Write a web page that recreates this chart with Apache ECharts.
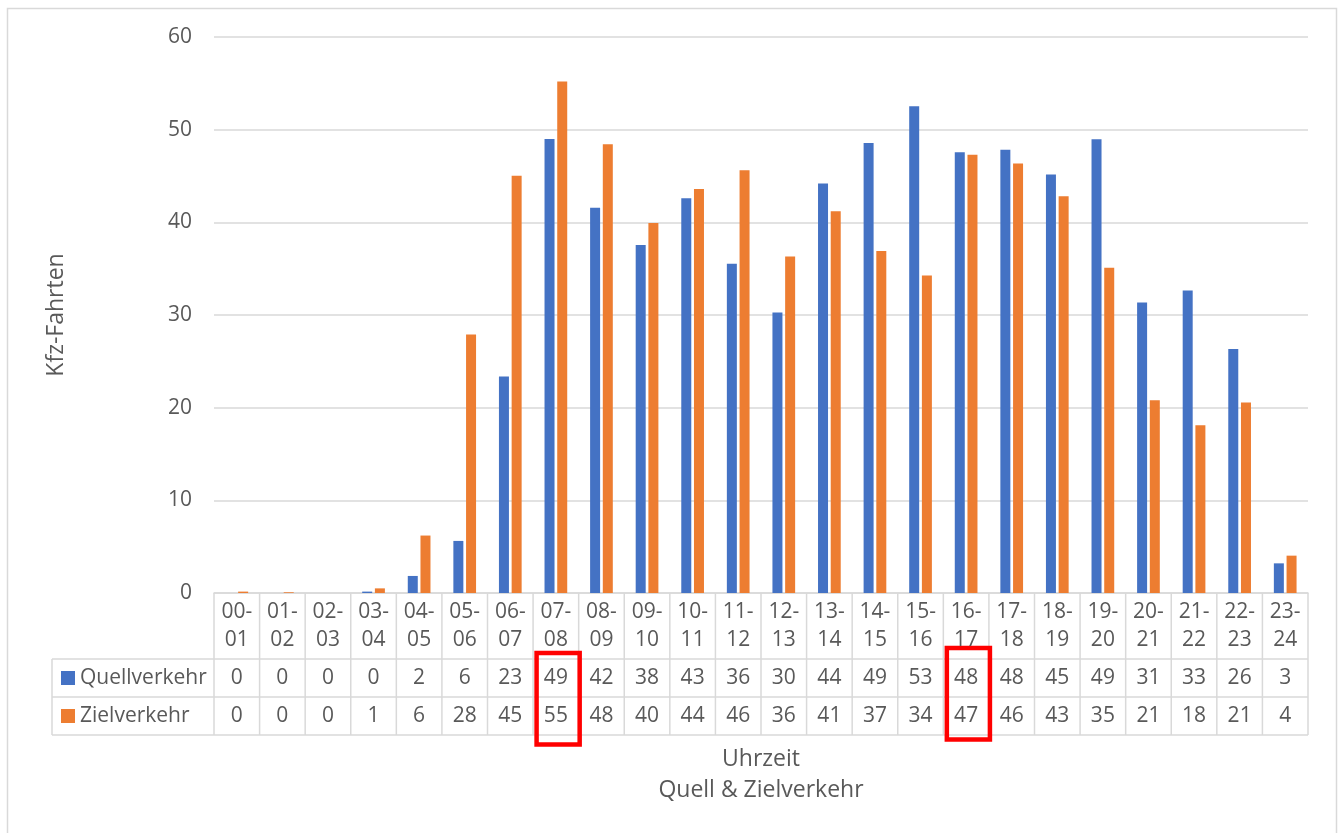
<!DOCTYPE html>
<html>
<head>
<meta charset="utf-8">
<script src="https://cdn.jsdelivr.net/npm/echarts@6/dist/echarts.min.js"></script>
<style>
  html, body { margin: 0; padding: 0; background: #ffffff; }
  #chart { width: 1342px; height: 833px; }
</style>
</head>
<body>
<div id="chart"></div>
<script>
// Hourly vehicle trips (Kfz-Fahrten), outbound vs. inbound traffic
const categories = ['00-01', '01-02', '02-03', '03-04', '04-05', '05-06', '06-07', '07-08',
  '08-09', '09-10', '10-11', '11-12', '12-13', '13-14', '14-15', '15-16', '16-17', '17-18',
  '18-19', '19-20', '20-21', '21-22', '22-23', '23-24'];
const quellverkehr = [0, 0, 0, 0.15, 1.84, 5.62, 23.35, 49.0, 41.58, 37.55, 42.6, 35.53,
  30.27, 44.2, 48.55, 52.54, 47.55, 47.82, 45.15, 48.97, 31.35, 32.65, 26.34, 3.2];
const zielverkehr = [0.15, 0.08, 0, 0.5, 6.2, 27.9, 45.04, 55.2, 48.43, 39.92, 43.6, 45.62,
  36.32, 41.19, 36.9, 34.27, 47.28, 46.34, 42.81, 35.09, 20.79, 18.09, 20.57, 4.03];
const seriesNames = ['Quellverkehr', 'Zielverkehr'];
const yTicks = [0, 10, 20, 30, 40, 50, 60];
const highlighted = ['07-08', '16-17'];

const TEXT = '#595959';
const LINE = '#d9d9d9';
const FONT = '"Open Sans", "DejaVu Sans", sans-serif';
const LABEL_SIZE = 21;
const TITLE_SIZE = 23;
const COLORS = ['#4472C4', '#ED7D31'];

const chart = echarts.init(document.getElementById('chart'), null, { renderer: 'canvas' });

chart.setOption({
  animation: false,
  backgroundColor: '#ffffff',
  textStyle: { fontFamily: FONT, color: TEXT },
  grid: { left: 214, right: 34, top: 37, bottom: 240 },
  xAxis: {
    type: 'category',
    data: categories,
    axisLine: { show: true, lineStyle: { color: LINE, width: 1.5 } },
    axisTick: { show: false },
    axisLabel: {
      interval: 0,
      color: TEXT,
      fontSize: LABEL_SIZE,
      fontFamily: FONT,
      lineHeight: 28,
      margin: 5,
      formatter: v => v.replace('-', '-\n')
    },
    name: 'Uhrzeit\nQuell & Zielverkehr',
    nameLocation: 'middle',
    nameGap: 151,
    nameTextStyle: { color: TEXT, fontSize: TITLE_SIZE, fontFamily: FONT, lineHeight: 31, verticalAlign: 'top' }
  },
  yAxis: {
    type: 'value',
    min: yTicks[0],
    max: yTicks[yTicks.length - 1],
    interval: 10,
    axisLine: { show: false },
    axisTick: { show: false },
    axisLabel: { color: TEXT, fontSize: LABEL_SIZE, fontFamily: FONT, margin: 22 },
    splitLine: { lineStyle: { color: LINE, width: 1.5 } },
    name: 'Kfz-Fahrten',
    nameLocation: 'middle',
    nameGap: 146,
    nameTextStyle: { color: TEXT, fontSize: TITLE_SIZE, fontFamily: FONT }
  },
  series: [
    {
      name: seriesNames[0],
      type: 'bar',
      data: quellverkehr,
      barWidth: 10,
      barGap: '27%',
      itemStyle: { color: COLORS[0] }
    },
    {
      name: seriesNames[1],
      type: 'bar',
      data: zielverkehr,
      barWidth: 10,
      barGap: '27%',
      itemStyle: { color: COLORS[1] }
    }
  ]
});

// Data table under the axis: grid lines, rounded values, legend keys, highlight boxes
function buildTable() {
  const c0 = chart.convertToPixel({ xAxisIndex: 0 }, 0);
  const c1 = chart.convertToPixel({ xAxisIndex: 0 }, 1);
  const band = c1 - c0;
  const axisY = chart.convertToPixel({ yAxisIndex: 0 }, 0);
  const left = c0 - band / 2;
  const right = left + band * categories.length;
  const legendLeft = 52;
  const rowCat = axisY + 66;
  const rowQ = rowCat + 38;
  const rowZ = rowQ + 38;
  const rows = [rowCat, rowQ, rowZ];
  const g = [];
  const ls = { stroke: LINE, lineWidth: 1.5 };
  const font = LABEL_SIZE + 'px ' + FONT;

  // vertical lines at category boundaries
  for (let i = 0; i <= categories.length; i++) {
    const x = left + band * i;
    g.push({ type: 'line', shape: { x1: x, y1: axisY, x2: x, y2: rowZ }, style: ls, silent: true });
  }
  // horizontal lines
  g.push({ type: 'line', shape: { x1: left, y1: rowCat, x2: right, y2: rowCat }, style: ls, silent: true });
  g.push({ type: 'line', shape: { x1: legendLeft, y1: rowCat, x2: left, y2: rowCat }, style: ls, silent: true });
  g.push({ type: 'line', shape: { x1: legendLeft, y1: rowQ, x2: right, y2: rowQ }, style: ls, silent: true });
  g.push({ type: 'line', shape: { x1: legendLeft, y1: rowZ, x2: right, y2: rowZ }, style: ls, silent: true });
  g.push({ type: 'line', shape: { x1: legendLeft, y1: rowCat, x2: legendLeft, y2: rowZ }, style: ls, silent: true });

  // legend keys and series names
  [quellverkehr, zielverkehr].forEach((vals, s) => {
    const cy = (rows[s] + rows[s + 1]) / 2;
    g.push({ type: 'rect', shape: { x: 61, y: cy - 7, width: 14, height: 14 },
      style: { fill: COLORS[s] }, silent: true });
    g.push({ type: 'text', x: 80, y: cy, silent: true,
      style: { text: seriesNames[s], fill: TEXT, font: font, align: 'left', verticalAlign: 'middle' } });
    vals.forEach((v, i) => {
      const cx = chart.convertToPixel({ xAxisIndex: 0 }, i);
      g.push({ type: 'text', x: cx, y: cy, silent: true,
        style: { text: String(Math.round(v)), fill: TEXT, font: font, align: 'center', verticalAlign: 'middle' } });
    });
  });

  // red boxes around highlighted hours
  const shifts = [-6, -11];
  highlighted.forEach((cat, k) => {
    const idx = categories.indexOf(cat);
    const cx = chart.convertToPixel({ xAxisIndex: 0 }, idx);
    g.push({ type: 'rect', silent: true,
      shape: { x: cx - band / 2 + 3.5, y: rowCat + shifts[k], width: band - 2.5, height: 91.5 },
      style: { fill: null, stroke: '#ff0000', lineWidth: 4.5 } });
  });

  // outer frame
  g.push({ type: 'rect', silent: true, shape: { x: 7.5, y: 8.5, width: 1329, height: 840 },
    style: { fill: null, stroke: LINE, lineWidth: 1.5 } });

  chart.setOption({ graphic: g });
}
buildTable();
</script>
</body>
</html>
